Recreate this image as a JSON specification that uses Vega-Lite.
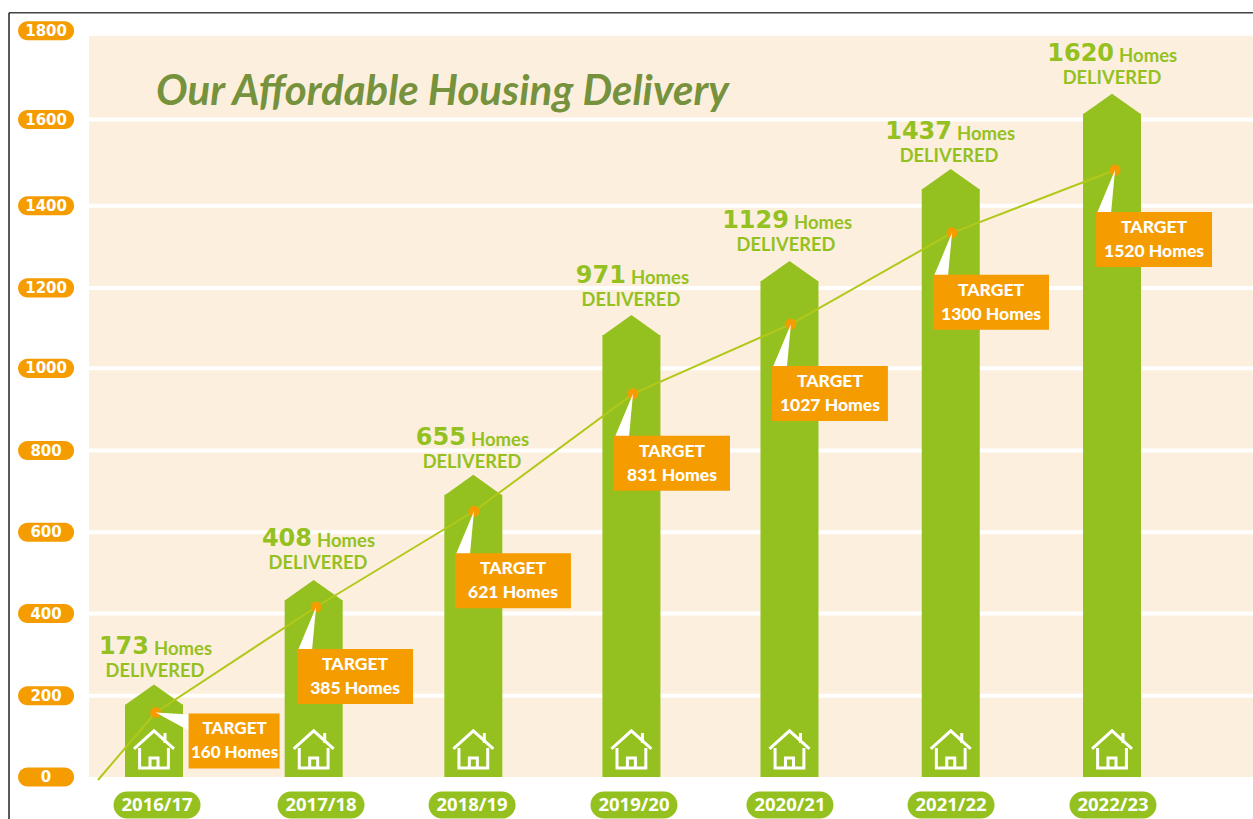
{
"$schema":"https://vega.github.io/schema/vega-lite/v6.json",
"width":1253,"height":819,"padding":0,"autosize":{"type":"none"},"background":"white",
"config":{"view":{"stroke":null},"axis":{"disable":true},"legend":{"disable":true}},
"datasets":{
"years":[
{"period":"2016/17","pos":2016,"bar":176.6,"label_base":171.6,"delivered":"173","target":"160 Homes","target_x":2016.01,"target_y":157,"homes_x":2016,"delivered_x":2016.006,"pill_x":2016.019},
{"period":"2017/18","pos":2017,"bar":431,"label_base":433,"delivered":"408","target":"385 Homes","target_x":2017.015,"target_y":414,"homes_x":2017.021,"delivered_x":2017.027,"pill_x":2017.046},
{"period":"2018/19","pos":2018,"bar":687,"label_base":680,"delivered":"655","target":"621 Homes","target_x":2018.004,"target_y":647,"homes_x":2017.985,"delivered_x":2017.992,"pill_x":2017.992},
{"period":"2019/20","pos":2018.99,"bar":1076,"label_base":1074,"delivered":"971","target":"831 Homes","target_x":2019.0,"target_y":933,"homes_x":2018.987,"delivered_x":2018.987,"pill_x":2019.006},
{"period":"2020/21","pos":2019.98,"bar":1208,"label_base":1208,"delivered":"1129","target":"1027 Homes","target_x":2019.989,"target_y":1103,"homes_x":2020.008,"delivered_x":2019.958,"pill_x":2019.983},
{"period":"2021/22","pos":2020.99,"bar":1432,"label_base":1425,"delivered":"1437","target":"1300 Homes","target_x":2020.998,"target_y":1325,"homes_x":2021.029,"delivered_x":2020.979,"pill_x":2020.992},
{"period":"2022/23","pos":2022,"bar":1615,"label_base":1615,"delivered":"1620","target":"1520 Homes","target_x":2022.019,"target_y":1478,"homes_x":2022.044,"delivered_x":2022,"pill_x":2022.006}
],
"target_line":[
{"x":2015.649,"y":-7.3},{"x":2016.01,"y":157},{"x":2017.015,"y":414},{"x":2018.004,"y":647},{"x":2019.0,"y":933},{"x":2019.989,"y":1103},{"x":2020.998,"y":1325},{"x":2022.019,"y":1478}
],
"ticks":[
{"tick":0,"label_y":0},{"tick":200,"label_y":198},{"tick":400,"label_y":398},{"tick":600,"label_y":596},{"tick":800,"label_y":795},{"tick":1000,"label_y":995},{"tick":1200,"label_y":1191},{"tick":1400,"label_y":1391},{"tick":1600,"label_y":1601},{"tick":1800,"label_y":1817}
]
},
"layer":[
{"data":{"values":[{}]},"mark":{"type":"rect","color":"#fdefde"},
 "encoding":{"x":{"datum":2015.593,"type":"quantitative","scale":{"domain":[2015.0355,2022.883],"nice":false,"zero":false,"padding":0}},"x2":{"datum":2022.883},
 "y":{"datum":0,"type":"quantitative","scale":{"domain":[-102.3,1892],"nice":false,"zero":false,"padding":0}},"y2":{"datum":1804.7}}},
{"data":{"name":"ticks"},"transform":[{"filter":"datum.tick>0 && datum.tick<1800"}],"mark":{"type":"rule","color":"white","strokeWidth":4},
 "encoding":{"x":{"datum":2015.593,"type":"quantitative"},"x2":{"datum":2022.883},"y":{"field":"label_y","type":"quantitative"}}},
{"data":{"values":[{}]},"mark":{"type":"rule","color":"#444444","strokeWidth":1.5},
 "encoding":{"x":{"datum":2015.092,"type":"quantitative"},"x2":{"datum":2022.883},"y":{"datum":1860.7,"type":"quantitative"}}},
{"data":{"values":[{}]},"mark":{"type":"rule","color":"#222222","strokeWidth":1.5},
 "encoding":{"x":{"datum":2015.092,"type":"quantitative"},"y":{"datum":1860.7,"type":"quantitative"},"y2":{"datum":-102.3}}},
{"data":{"name":"ticks"},"mark":{"type":"point","filled":true,"opacity":1,"color":"#f59c00","size":3136,"shape":"M-0.66,-0.34 L0.66,-0.34 A0.34,0.34 0 0 1 0.66,0.34 L-0.66,0.34 A0.34,0.34 0 0 1 -0.66,-0.34 Z"},
 "encoding":{"x":{"datum":2015.324,"type":"quantitative"},"y":{"field":"label_y","type":"quantitative"}}},
{"data":{"name":"ticks"},"mark":{"type":"text","color":"white","font":"DejaVu Sans","fontWeight":"bold","fontSize":15,"align":"center","baseline":"middle"},
 "encoding":{"x":{"datum":2015.324,"type":"quantitative"},"y":{"field":"label_y","type":"quantitative"},"text":{"field":"tick","type":"nominal"}}},
{"data":{"values":[{"title":"Our Affordable Housing Delivery"}]},"mark":{"type":"text","color":"#76923c","font":"Lato","fontWeight":"bold","fontStyle":"italic","fontSize":42,"align":"left","baseline":"middle"},
 "encoding":{"x":{"datum":2016.0125,"type":"quantitative"},"y":{"datum":1668,"type":"quantitative"},"text":{"field":"title","type":"nominal"}}},
{"data":{"name":"years"},"mark":{"type":"bar","color":"#94c11f","size":58,"orient":"vertical"},
 "encoding":{"x":{"field":"pos","type":"quantitative"},"y":{"field":"bar","type":"quantitative"}}},
{"data":{"name":"years"},"mark":{"type":"point","filled":true,"opacity":1,"color":"#94c11f","size":3364,"shape":"M-1,0.02 L0,-0.69 L1,0.02 Z"},
 "encoding":{"x":{"field":"pos","type":"quantitative"},"y":{"field":"bar","type":"quantitative"}}},
{"data":{"name":"years"},"mark":{"type":"point","filled":false,"opacity":1,"color":"white","strokeWidth":3,"size":1600,"shape":"M-1,-0.05 L0,-0.95 L1,-0.05 M-0.72,-0.1 L-0.72,0.9 L0.72,0.9 L0.72,-0.1 M-0.2,0.9 L-0.2,0.4 L0.2,0.4 L0.2,0.9 M0.55,-0.35 L0.55,-0.85 L0.55,-0.35"},
 "encoding":{"x":{"field":"pos","type":"quantitative"},"y":{"datum":66,"type":"quantitative"}}},
{"data":{"name":"target_line"},"mark":{"type":"line","color":"#b2c81a","strokeWidth":2},
 "encoding":{"x":{"field":"x","type":"quantitative"},"y":{"field":"y","type":"quantitative"}}},
{"data":{"name":"years"},"mark":{"type":"point","filled":true,"opacity":1,"color":"#f59c00","size":120,"shape":"circle"},
 "encoding":{"x":{"field":"target_x","type":"quantitative"},"y":{"field":"target_y","type":"quantitative"}}},
{"data":{"name":"years"},"transform":[{"filter":"datum.pos>2016"}],"mark":{"type":"point","filled":true,"opacity":1,"color":"white","size":10000,"shape":"M0,0 L-0.36,0.86 L-0.08,0.86 Z"},
 "encoding":{"x":{"field":"target_x","type":"quantitative"},"y":{"field":"target_y","type":"quantitative"}}},
{"data":{"name":"years"},"transform":[{"filter":"datum.pos==2016"}],"mark":{"type":"point","filled":true,"opacity":1,"color":"white","size":10000,"shape":"M0,0 L0.66,0.04 L0.66,0.36 Z"},
 "encoding":{"x":{"field":"target_x","type":"quantitative"},"y":{"field":"target_y","type":"quantitative"}}},
{"data":{"name":"years"},"transform":[{"filter":"datum.pos>2016"}],"mark":{"type":"point","filled":true,"opacity":1,"color":"#f59c00","size":13456,"shape":"M-0.328,0.724 L1.672,0.724 L1.672,1.672 L-0.328,1.672 Z"},
 "encoding":{"x":{"field":"target_x","type":"quantitative"},"y":{"field":"target_y","type":"quantitative"}}},
{"data":{"name":"years"},"transform":[{"filter":"datum.pos==2016"}],"mark":{"type":"point","filled":true,"opacity":1,"color":"#f59c00","size":13456,"shape":"M0.569,0.017 L2.138,0.017 L2.138,0.966 L0.569,0.966 Z"},
 "encoding":{"x":{"field":"target_x","type":"quantitative"},"y":{"field":"target_y","type":"quantitative"}}},
{"data":{"name":"years"},"transform":[{"filter":"datum.pos>2016"}],"mark":{"type":"text","color":"white","font":"Lato","fontWeight":900,"fontSize":17.5,"align":"center","baseline":"middle","dx":39,"dy":58},
 "encoding":{"x":{"field":"target_x","type":"quantitative"},"y":{"field":"target_y","type":"quantitative"},"text":{"value":"TARGET"}}},
{"data":{"name":"years"},"transform":[{"filter":"datum.pos>2016"}],"mark":{"type":"text","color":"white","font":"Lato","fontWeight":900,"fontSize":17.5,"align":"center","baseline":"middle","dx":39,"dy":82},
 "encoding":{"x":{"field":"target_x","type":"quantitative"},"y":{"field":"target_y","type":"quantitative"},"text":{"field":"target","type":"nominal"}}},
{"data":{"name":"years"},"transform":[{"filter":"datum.pos==2016"}],"mark":{"type":"text","color":"white","font":"Lato","fontWeight":900,"fontSize":17,"align":"center","baseline":"middle","dx":79,"dy":16},
 "encoding":{"x":{"field":"target_x","type":"quantitative"},"y":{"field":"target_y","type":"quantitative"},"text":{"value":"TARGET"}}},
{"data":{"name":"years"},"transform":[{"filter":"datum.pos==2016"}],"mark":{"type":"text","color":"white","font":"Lato","fontWeight":900,"fontSize":17,"align":"center","baseline":"middle","dx":79,"dy":40},
 "encoding":{"x":{"field":"target_x","type":"quantitative"},"y":{"field":"target_y","type":"quantitative"},"text":{"field":"target","type":"nominal"}}},
{"data":{"name":"years"},"mark":{"type":"text","color":"#94c11f","font":"DejaVu Sans","fontWeight":"bold","fontSize":24,"align":"right","baseline":"middle","dx":-5,"dy":-60},
 "encoding":{"x":{"field":"homes_x","type":"quantitative"},"y":{"field":"label_base","type":"quantitative"},"text":{"field":"delivered","type":"nominal"}}},
{"data":{"name":"years"},"mark":{"type":"text","color":"#94c11f","font":"Lato","fontWeight":"bold","fontSize":18.5,"align":"left","baseline":"middle","dy":-58},
 "encoding":{"x":{"field":"homes_x","type":"quantitative"},"y":{"field":"label_base","type":"quantitative"},"text":{"value":"Homes"}}},
{"data":{"name":"years"},"mark":{"type":"text","color":"#94c11f","font":"Lato","fontWeight":"bold","fontSize":18.3,"align":"center","baseline":"middle","dy":-35},
 "encoding":{"x":{"field":"delivered_x","type":"quantitative"},"y":{"field":"label_base","type":"quantitative"},"text":{"value":"DELIVERED"}}},
{"data":{"name":"years"},"mark":{"type":"point","filled":true,"opacity":1,"color":"#94c11f","size":7569,"shape":"M-0.69,-0.31 L0.69,-0.31 A0.31,0.31 0 0 1 0.69,0.31 L-0.69,0.31 A0.31,0.31 0 0 1 -0.69,-0.31 Z"},
 "encoding":{"x":{"field":"pill_x","type":"quantitative"},"y":{"datum":-68.2,"type":"quantitative"}}},
{"data":{"name":"years"},"mark":{"type":"text","color":"white","font":"Open Sans","fontWeight":"bold","fontSize":18.5,"align":"center","baseline":"middle"},
 "encoding":{"x":{"field":"pill_x","type":"quantitative"},"y":{"datum":-68.2,"type":"quantitative"},"text":{"field":"period","type":"nominal"}}}
]
}
